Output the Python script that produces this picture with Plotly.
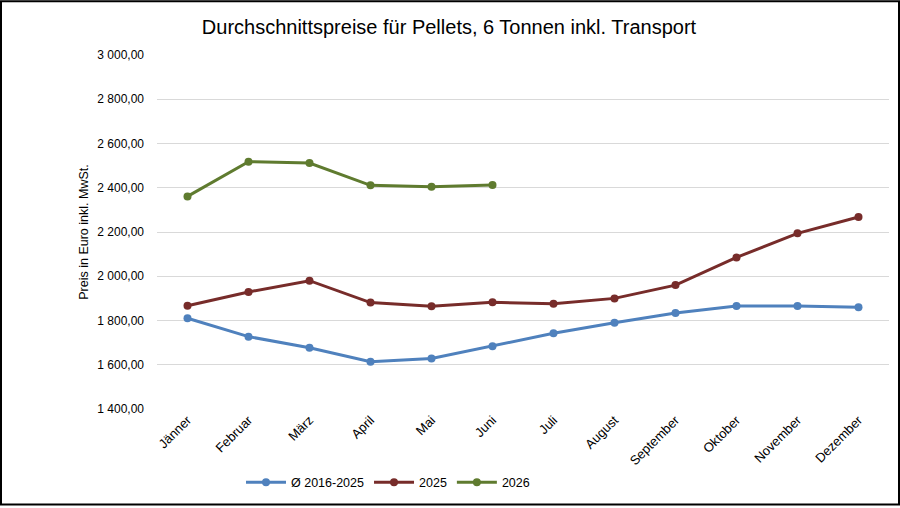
import plotly.graph_objects as go

months = ["Jänner", "Februar", "März", "April", "Mai", "Juni", "Juli",
          "August", "September", "Oktober", "November", "Dezember"]
avg_2016_2025 = [1810, 1727, 1677, 1614, 1628, 1684, 1742, 1790, 1834, 1865, 1865, 1860]
y2025 = [1867, 1929, 1980, 1881, 1864, 1882, 1876, 1900, 1960, 2085, 2194, 2268]
y2026 = [2361, 2518, 2512, 2411, 2404, 2412]

names = ["Ø 2016-2025", "2025", "2026"]
colors = ["#4F81BD", "#772C2A", "#5F7B2F"]

W, H = 900, 508
ml, mr, mt, mb = 157, 11, 55, 97

fig = go.Figure()
for name, vals, col in zip(names, [avg_2016_2025, y2025, y2026], colors):
    fig.add_trace(go.Scatter(
        x=months[:len(vals)], y=vals, name=name, mode="lines+markers",
        line=dict(color=col, width=3), marker=dict(color=col, size=8),
    ))

pw = W - ml - mr
ph = H - mt - mb
fig.add_shape(type="rect", xref="paper", yref="paper",
              x0=(1 - ml) / pw, x1=(W - ml - 1) / pw,
              y0=-(mb - 1) / ph, y1=1 + (mt - 1) / ph,
              line=dict(color="#000000", width=2), fillcolor="rgba(0,0,0,0)")

fig.update_layout(
    width=W, height=H,
    margin=dict(l=ml, r=mr, t=mt, b=mb),
    paper_bgcolor="white", plot_bgcolor="white",
    separators=", ",
    font=dict(family="Liberation Sans, Arial, sans-serif", color="#000000", size=12),
    title=dict(text="Durchschnittspreise für Pellets, 6 Tonnen inkl. Transport",
               x=449 / W, xref="container", xanchor="center", y=1 - 27 / H, yanchor="middle",
               font=dict(size=20, color="#000000")),
    xaxis=dict(type="category", categoryorder="array", categoryarray=months,
               range=[-0.5, 11.5], tickangle=-45, showgrid=False, showline=False,
               ticks="", tickfont=dict(size=13)),
    yaxis=dict(range=[1400, 3000], dtick=200, tickformat=",.2f",
               showgrid=True, gridcolor="#D9D9D9", gridwidth=1, zeroline=False,
               showline=False, ticks="", ticklabelstandoff=12,
               tickfont=dict(size=12),
               title=dict(text="Preis in Euro inkl. MwSt.", font=dict(size=12.5), standoff=5)),
    showlegend=True,
    legend=dict(orientation="h", x=(388 - ml) / pw, xanchor="center",
                y=(ph - (485 - mt)) / ph, yanchor="middle",
                font=dict(size=12.5), itemwidth=40, bgcolor="rgba(0,0,0,0)"),
)

fig.write_html("out.html")
